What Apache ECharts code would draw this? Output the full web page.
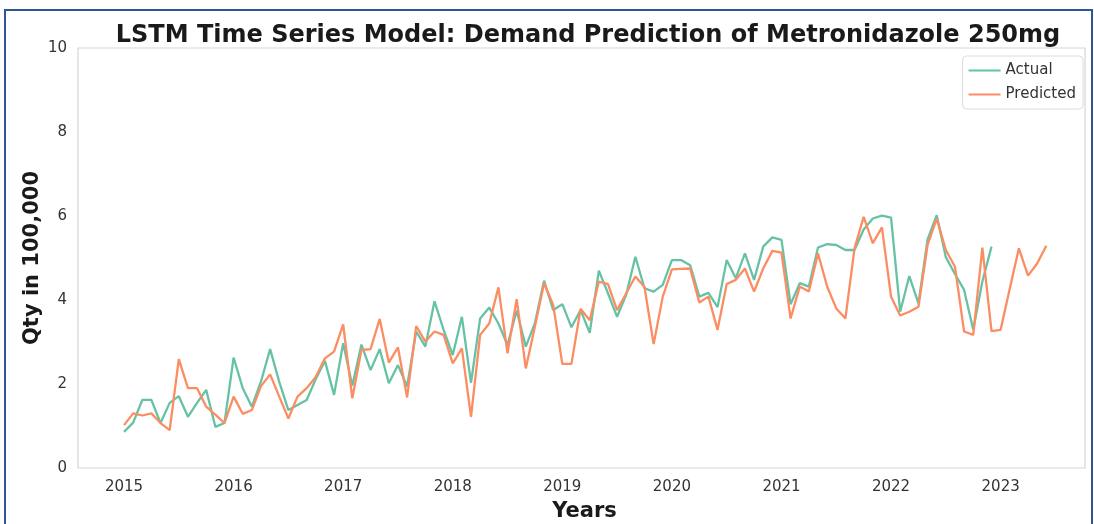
<!DOCTYPE html>
<html>
<head>
<meta charset="utf-8">
<script src="https://cdn.jsdelivr.net/npm/echarts@6/dist/echarts.min.js"></script>
<style>
html,body{margin:0;padding:0;background:#fff;overflow:hidden;}
#wrap{position:relative;width:1094px;height:524px;overflow:hidden;}
#chart{position:absolute;left:0;top:0;width:1094px;height:524px;}
#frame{position:absolute;left:4px;top:9px;width:1085px;height:530px;border:2px solid #2f5597;pointer-events:none;}
</style>
</head>
<body>
<div id="wrap"><div id="chart"></div><div id="frame"></div></div>
<script>
// Monthly series starting January 2015
const startYear = 2015;
const yearTicks = [2015, 2016, 2017, 2018, 2019, 2020, 2021, 2022, 2023];
const yTicks = [0, 2, 4, 6, 8, 10];

const actual = [
  0.86, 1.08, 1.62, 1.62, 1.07, 1.55, 1.71, 1.22, 1.55, 1.86, 0.98, 1.07,
  2.63, 1.90, 1.46, 2.06, 2.83, 2.05, 1.38, 1.50, 1.62, 2.12, 2.55, 1.74,
  2.97, 1.96, 2.94, 2.33, 2.83, 2.02, 2.45, 1.94, 3.25, 2.89, 3.97, 3.29,
  2.69, 3.60, 2.03, 3.56, 3.82, 3.44, 2.93, 3.75, 2.89, 3.45, 4.46, 3.76,
  3.90, 3.35, 3.76, 3.22, 4.70, 4.16, 3.60, 4.13, 5.03, 4.28, 4.20, 4.36,
  4.95, 4.95, 4.83, 4.08, 4.17, 3.83, 4.95, 4.52, 5.11, 4.48, 5.27, 5.49,
  5.43, 3.90, 4.40, 4.32, 5.25, 5.33, 5.31, 5.19, 5.19, 5.68, 5.94, 6.01,
  5.96, 3.72, 4.57, 3.92, 5.44, 6.02, 5.02, 4.62, 4.24, 3.29, 4.44, 5.27
];

const predicted = [
  1.02, 1.30, 1.25, 1.30, 1.07, 0.90, 2.59, 1.90, 1.90, 1.46, 1.27, 1.07,
  1.70, 1.29, 1.38, 1.95, 2.23, 1.70, 1.18, 1.70, 1.90, 2.17, 2.61, 2.77,
  3.42, 1.66, 2.81, 2.83, 3.55, 2.51, 2.87, 1.68, 3.38, 3.01, 3.25, 3.17,
  2.49, 2.85, 1.22, 3.17, 3.44, 4.30, 2.73, 4.02, 2.37, 3.37, 4.40, 3.88,
  2.48, 2.48, 3.79, 3.52, 4.44, 4.38, 3.76, 4.16, 4.56, 4.31, 2.95, 4.08,
  4.73, 4.74, 4.75, 3.94, 4.08, 3.29, 4.38, 4.48, 4.75, 4.20, 4.75, 5.17,
  5.13, 3.56, 4.32, 4.20, 5.11, 4.32, 3.80, 3.56, 5.23, 5.98, 5.35, 5.73,
  4.08, 3.63, 3.72, 3.84, 5.31, 5.94, 5.19, 4.79, 3.25, 3.17, 5.25, 3.26,
  3.29, 4.27, 5.23, 4.58, 4.87, 5.29
];

const toPairs = arr => arr.map((v, i) => [startYear + i / 12, v]);

const chart = echarts.init(document.getElementById('chart'), null, {renderer: 'canvas'});
const font = 'DejaVu Sans';
chart.setOption({
  animation: false,
  backgroundColor: '#ffffff',
  title: {
    text: 'LSTM Time Series Model: Demand Prediction of Metronidazole 250mg',
    left: 583, top: 19, textAlign: 'center',
    textStyle: {fontFamily: font, fontSize: 24, fontWeight: 'bold', color: '#1a1a1a'}
  },
  grid: {left: 78, right: 9, top: 48, bottom: 56, show: true, borderColor: '#d6d6d6', borderWidth: 1.2,
         backgroundColor: '#fff', outerBoundsMode: 'none', containLabel: false},
  legend: {
    orient: 'vertical', right: 11, top: 56,
    data: ['Actual', 'Predicted'],
    icon: 'rect', itemWidth: 32, itemHeight: 2, itemGap: 9,
    backgroundColor: '#fff', borderColor: '#dcdcdc', borderWidth: 1, borderRadius: 4,
    padding: [7, 7, 7, 6],
    textStyle: {fontFamily: font, fontSize: 15, color: '#333'}
  },
  xAxis: {
    type: 'value', min: 2014.58, max: 2023.77,
    name: 'Years', nameLocation: 'middle', nameGap: 33, nameMoveOverlap: false,
    nameTextStyle: {fontFamily: font, fontSize: 21, fontWeight: 'bold', color: '#1a1a1a', padding: [0, 0, 0, 6]},
    axisLine: {show: false}, axisTick: {show: false}, splitLine: {show: false},
    axisLabel: {customValues: yearTicks, fontFamily: font, fontSize: 15, color: '#333', margin: 12, formatter: v => String(Math.round(v))}
  },
  yAxis: {
    type: 'value', min: 0, max: 10, interval: 2,
    name: 'Qty in 100,000', nameLocation: 'middle', nameGap: 35, nameMoveOverlap: false,
    nameTextStyle: {fontFamily: font, fontSize: 21, fontWeight: 'bold', color: '#1a1a1a'},
    axisLine: {show: false}, axisTick: {show: false}, splitLine: {show: false},
    axisLabel: {customValues: yTicks, fontFamily: font, fontSize: 15, color: '#333', margin: 11}
  },
  series: [
    {name: 'Actual', type: 'line', data: toPairs(actual), showSymbol: false, symbol: 'none',
     itemStyle: {color: '#66c2a5'}, lineStyle: {color: '#66c2a5', width: 2.3}},
    {name: 'Predicted', type: 'line', data: toPairs(predicted), showSymbol: false, symbol: 'none',
     itemStyle: {color: '#fc8d62'}, lineStyle: {color: '#fc8d62', width: 2.3}}
  ]
});
</script>
</body>
</html>
